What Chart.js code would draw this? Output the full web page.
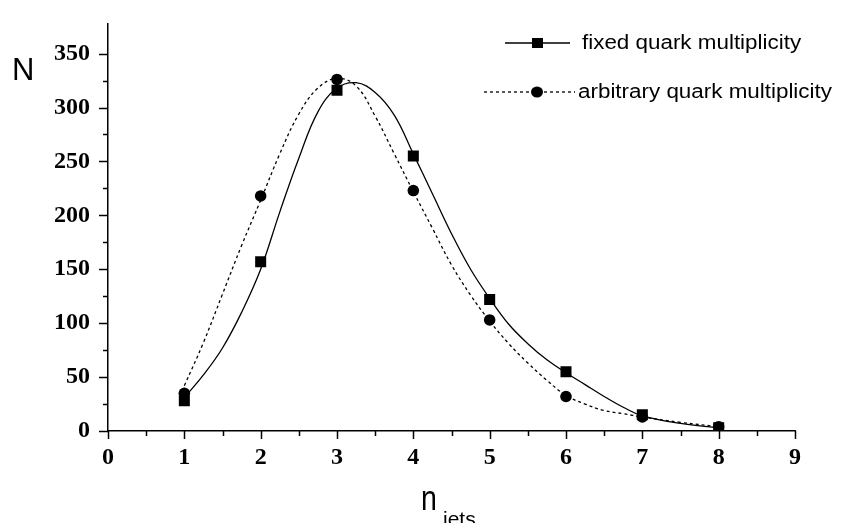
<!DOCTYPE html>
<html>
<head>
<meta charset="utf-8">
<script src="https://cdn.jsdelivr.net/npm/chart.js@4"></script>
<style>
    body { margin: 0; background: #fff; }
    canvas { display: block; }
</style>
</head>
<body>
<canvas id="mainChart" width="853" height="523"></canvas>
<script>
// measured points
const nJets = [1, 2, 3, 4, 5, 6, 7, 8];
const fixedN = [28, 157, 316, 255, 122, 55, 15, 3];
const arbitraryN = [35, 218, 326, 223, 103, 32, 13, 4];

// fitted curves
const fitX = [1, 1.25, 1.5, 1.75, 2, 2.25, 2.5, 2.75, 3, 3.25, 3.5, 3.75, 4, 4.25, 4.5, 4.75, 5, 5.25, 5.5, 5.75, 6, 6.25, 6.5, 6.75, 7, 7.5, 8];
const fixedFit = [31, 52, 77, 110, 150, 203, 253, 296, 318, 323, 314, 293, 257, 220, 183, 150, 123, 99, 81, 66, 54, 43, 32, 22, 14, 7, 3];
const arbitraryFit = [42, 82, 127, 172, 214, 257, 294, 318, 327, 320, 292, 257, 222, 188, 154, 126, 102, 81, 63, 47, 33, 25, 19, 16, 13, 8, 4];

const yTicks = [0, 50, 100, 150, 200, 250, 300, 350];
const xTicks = [0, 1, 2, 3, 4, 5, 6, 7, 8, 9];

const legendLabels = ['fixed quark multiplicity', 'arbitrary quark multiplicity'];

const toXY = (xs, ys) => xs.map((x, i) => ({ x: x, y: ys[i] }));

// minor + major tick marks, axis titles, legend
const decorPlugin = {
    id: 'decor',
    afterDraw(chart) {
        const ctx = chart.ctx;
        const xs = chart.scales.x, ys = chart.scales.y;
        const left = chart.chartArea.left, bottom = chart.chartArea.bottom;
        ctx.save();
        ctx.strokeStyle = '#000';
        ctx.lineWidth = 1.5;
        for (let v = 0; v <= 350; v += 25) {
            const py = Math.round(ys.getPixelForValue(v)) + 0.5;
            const len = v % 50 === 0 ? 9 : 5;
            ctx.beginPath();
            ctx.moveTo(left, py);
            ctx.lineTo(left - len, py);
            ctx.stroke();
        }
        for (let v = 0; v <= 9; v += 0.5) {
            const px = Math.round(xs.getPixelForValue(v)) + 0.5;
            const len = v % 1 === 0 ? 8 : 5;
            ctx.beginPath();
            ctx.moveTo(px, bottom);
            ctx.lineTo(px, bottom + len);
            ctx.stroke();
        }

        // axis titles
        ctx.fillStyle = '#000';
        ctx.textBaseline = 'alphabetic';
        ctx.textAlign = 'left';
        ctx.font = '31px "Liberation Sans", Arial, sans-serif';
        ctx.fillText('N', 12, 80);
        ctx.save();
        ctx.translate(421, 510);
        ctx.scale(0.95, 1.15);
        ctx.font = '30px "Liberation Sans", Arial, sans-serif';
        ctx.fillText('n', 0, 0);
        ctx.restore();
        ctx.font = '21px "Liberation Sans", Arial, sans-serif';
        ctx.fillText('jets', 443, 526);

        // legend
        const rows = [
            { y: 43, x0: 505, x1: 570, dash: [], style: 'rect' },
            { y: 92, x0: 484, x1: 575, dash: [3, 3], style: 'circle' }
        ];
        rows.forEach((r, i) => {
            ctx.lineWidth = 1.3;
            ctx.setLineDash(r.dash);
            ctx.beginPath();
            ctx.moveTo(r.x0, r.y);
            ctx.lineTo(r.x1, r.y);
            ctx.stroke();
            ctx.setLineDash([]);
            if (r.style === 'rect') {
                ctx.fillRect(532, r.y - 5, 11, 10);
            } else {
                ctx.beginPath();
                ctx.ellipse(537, r.y, 6, 5.5, 0, 0, Math.PI * 2);
                ctx.fill();
            }
            ctx.save();
            ctx.translate(i === 0 ? 582 : 578, r.y);
            ctx.scale(1.12, 1);
            ctx.font = '20px "Liberation Sans", Arial, sans-serif';
            ctx.textBaseline = 'middle';
            ctx.fillText(legendLabels[i], 0, 0);
            ctx.restore();
        });
        ctx.restore();
    }
};

const tickFont = { family: '"Liberation Serif", "Times New Roman", serif', size: 24, weight: 'bold' };

new Chart(document.getElementById('mainChart').getContext('2d'), {
    type: 'line',
    data: {
        datasets: [
            {
                label: 'fixed fit',
                data: toXY(fitX, fixedFit),
                borderColor: '#000',
                borderWidth: 1.3,
                pointRadius: 0,
                fill: false,
                tension: 0.4
            },
            {
                label: 'arbitrary fit',
                data: toXY(fitX, arbitraryFit),
                borderColor: '#000',
                borderWidth: 1.3,
                borderDash: [3, 3],
                pointRadius: 0,
                fill: false,
                tension: 0.4
            },
            {
                label: legendLabels[0],
                data: toXY(nJets, fixedN),
                showLine: false,
                pointStyle: 'rect',
                pointRadius: 7.8,
                backgroundColor: '#000',
                borderColor: '#000',
                borderWidth: 0
            },
            {
                label: legendLabels[1],
                data: toXY(nJets, arbitraryN),
                showLine: false,
                pointStyle: 'circle',
                pointRadius: 5.8,
                backgroundColor: '#000',
                borderColor: '#000',
                borderWidth: 0
            }
        ]
    },
    options: {
        responsive: false,
        animation: false,
        layout: { padding: { top: 10, right: 58, left: 0, bottom: 0 } },
        plugins: {
            legend: { display: false },
            tooltip: { enabled: false }
        },
        scales: {
            x: {
                type: 'linear',
                min: 0,
                max: 9,
                afterBuildTicks: axis => { axis.ticks = xTicks.map(v => ({ value: v })); },
                afterFit: axis => { axis.height = 92; },
                grid: { display: false, drawTicks: true, tickLength: 8 },
                border: { display: true, color: '#000', width: 1.5 },
                ticks: { color: '#000', font: tickFont, padding: 4, maxRotation: 0 }
            },
            y: {
                type: 'linear',
                min: 0,
                max: 378,
                afterBuildTicks: axis => { axis.ticks = yTicks.map(v => ({ value: v })); },
                afterFit: axis => { axis.width = 108; },
                grid: { display: false, drawTicks: true, tickLength: 9 },
                border: { display: true, color: '#000', width: 1.5 },
                ticks: { color: '#000', font: tickFont, padding: 9 }
            }
        }
    },
    plugins: [decorPlugin]
});
</script>
</body>
</html>
